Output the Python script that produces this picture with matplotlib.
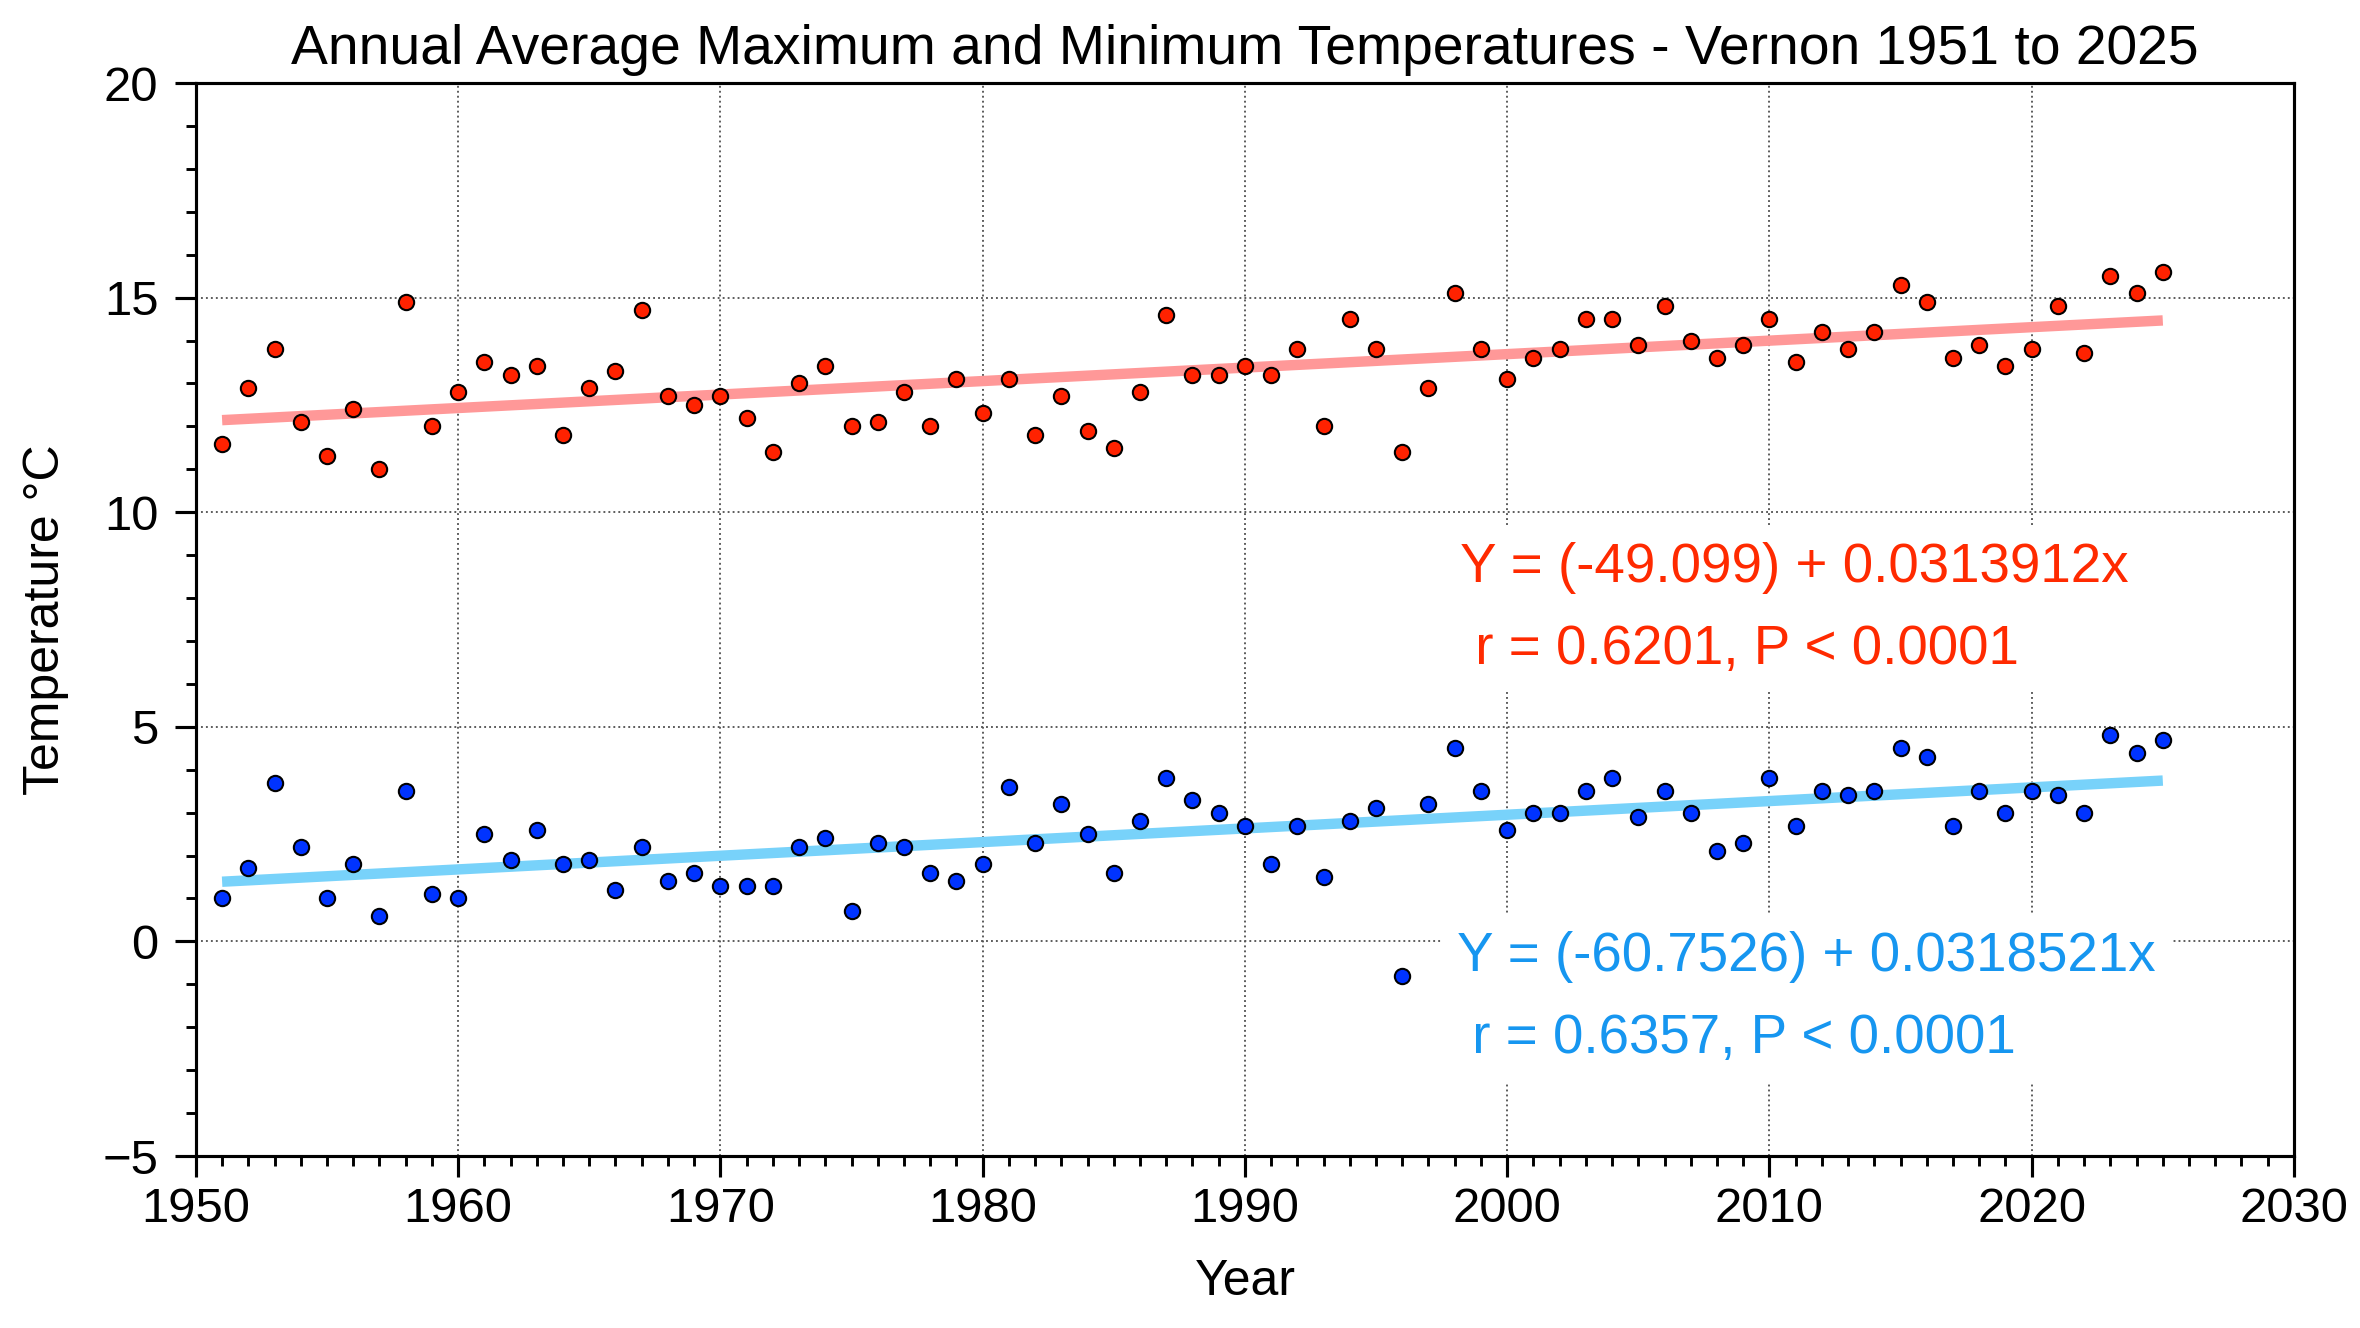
import numpy as np
import matplotlib
matplotlib.use("Agg")
import matplotlib.pyplot as plt
from matplotlib.ticker import MultipleLocator

plt.rcParams['font.family'] = ['Liberation Sans', 'DejaVu Sans']

years = list(range(1951, 2026))

tmax = [11.6, 12.9, 13.8, 12.1, 11.3, 12.4, 11.0, 14.9, 12.0, 12.8,
        13.5, 13.2, 13.4, 11.8, 12.9, 13.3, 14.7, 12.7, 12.5, 12.7,
        12.2, 11.4, 13.0, 13.4, 12.0, 12.1, 12.8, 12.0, 13.1, 12.3,
        13.1, 11.8, 12.7, 11.9, 11.5, 12.8, 14.6, 13.2, 13.2, 13.4,
        13.2, 13.8, 12.0, 14.5, 13.8, 11.4, 12.9, 15.1, 13.8, 13.1,
        13.6, 13.8, 14.5, 14.5, 13.9, 14.8, 14.0, 13.6, 13.9, 14.5,
        13.5, 14.2, 13.8, 14.2, 15.3, 14.9, 13.6, 13.9, 13.4, 13.8,
        14.8, 13.7, 15.5, 15.1, 15.6]

tmin = [1.0, 1.7, 3.7, 2.2, 1.0, 1.8, 0.6, 3.5, 1.1, 1.0,
        2.5, 1.9, 2.6, 1.8, 1.9, 1.2, 2.2, 1.4, 1.6, 1.3,
        1.3, 1.3, 2.2, 2.4, 0.7, 2.3, 2.2, 1.6, 1.4, 1.8,
        3.6, 2.3, 3.2, 2.5, 1.6, 2.8, 3.8, 3.3, 3.0, 2.7,
        1.8, 2.7, 1.5, 2.8, 3.1, -0.8, 3.2, 4.5, 3.5, 2.6,
        3.0, 3.0, 3.5, 3.8, 2.9, 3.5, 3.0, 2.1, 2.3, 3.8,
        2.7, 3.5, 3.4, 3.5, 4.5, 4.3, 2.7, 3.5, 3.0, 3.5,
        3.4, 3.0, 4.8, 4.4, 4.7]

# regression coefficients as printed on the chart
max_fit = (-49.099, 0.0313912)
min_fit = (-60.7526, 0.0318521)
max_stats = "r = 0.6201, P < 0.0001"
min_stats = "r = 0.6357, P < 0.0001"

red_pt = '#ff2200'
blue_pt = '#0033ff'
red_line = '#ff9898'
blue_line = '#78d2fa'
red_txt = '#ff2a00'
blue_txt = '#1696f0'

x = np.array(years)

fig = plt.figure(figsize=(2360 / 150, 1328 / 150), dpi=150)
ax = fig.add_axes([0.083, 0.1295, 0.889, 0.808])

ax.grid(True, which='major', linestyle=':', color='#555555', linewidth=0.9)
ax.set_axisbelow(True)

ax.plot(x, max_fit[0] + max_fit[1] * x, color=red_line, linewidth=5, zorder=2,
        solid_capstyle='butt')
ax.plot(x, min_fit[0] + min_fit[1] * x, color=blue_line, linewidth=5, zorder=2,
        solid_capstyle='butt')

ax.scatter(x, tmax, s=54, color=red_pt, edgecolors='black', linewidths=1.0, zorder=3)
ax.scatter(x, tmin, s=54, color=blue_pt, edgecolors='black', linewidths=1.0, zorder=3)

box = dict(boxstyle='square,pad=0.3', facecolor='white', edgecolor='none')
ax.text(1998.2, 7.75,
        "Y = (%g) + %gx\n %s" % (max_fit[0], max_fit[1], max_stats),
        color=red_txt, fontsize=26.3, ha='left', va='center', linespacing=1.75,
        bbox=box, zorder=4)
ax.text(1998.1, -1.32,
        "Y = (%g) + %gx\n %s" % (min_fit[0], min_fit[1], min_stats),
        color=blue_txt, fontsize=26.3, ha='left', va='center', linespacing=1.75,
        bbox=box, zorder=4)

ax.set_xlim(1950, 2030)
ax.set_ylim(-5, 20)
ax.xaxis.set_major_locator(MultipleLocator(10))
ax.xaxis.set_minor_locator(MultipleLocator(1))
ax.yaxis.set_major_locator(MultipleLocator(5))
ax.yaxis.set_minor_locator(MultipleLocator(1))
ax.tick_params(which='major', direction='out', length=10, width=1.5, labelsize=23.5,
               top=False, right=False)
ax.tick_params(which='minor', direction='out', length=5, width=1.4,
               top=False, right=False)
ax.tick_params(axis='x', which='major', pad=5)
ax.tick_params(axis='y', which='major', pad=8)
for s in ax.spines.values():
    s.set_linewidth(1.5)

ax.set_xlabel("Year", fontsize=24, labelpad=13)
ax.set_ylabel("Temperature °C", fontsize=24, labelpad=16)
ax.set_title("Annual Average Maximum and Minimum Temperatures - Vernon 1951 to 2025",
             fontsize=26.5, pad=9)

fig.savefig("out.png", dpi=150)
